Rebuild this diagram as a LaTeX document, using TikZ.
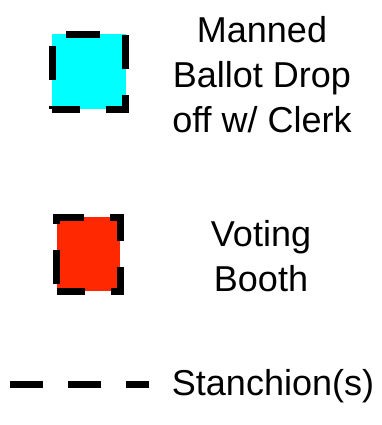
\documentclass[tikz,border=0pt]{standalone}
\usepackage{fontspec}
\setmainfont{Liberation Sans}
\definecolor{boothred}{RGB}{255,40,0}
\definecolor{dropcyan}{RGB}{0,255,255}
\begin{document}
\begin{tikzpicture}[x=1pt, y=-1pt]
  % Define styles
  \tikzstyle{legendbox}=[rectangle, draw=black, line width=7pt, dash pattern=on 34pt off 26pt, dash phase=6pt, inner sep=0pt]
  \tikzstyle{legendtext}=[align=center, inner sep=0pt, font=\fontsize{36}{45}\selectfont]
  \tikzstyle{stanchionline}=[draw=black, line width=7pt, dash pattern=on 33pt off 25pt]

  \useasboundingbox (0,0) rectangle (382,425);

  % Symbols
  \node[legendbox, fill=dropcyan, minimum width=73.5pt, minimum height=75pt] (dropbox) at (88.75,72) {};
  \node[legendbox, fill=boothred, minimum width=63.5pt, minimum height=74pt] (booth) at (88.25,254) {};
  \coordinate (stanchionstart) at (10,384);
  \coordinate (stanchionend) at (149,384);
  \draw[stanchionline] (stanchionstart) -- (stanchionend);

  % Texts
  \node[legendtext, anchor=north] (dropboxtext) at (262,16) {Manned\\Ballot Drop\\off w/ Clerk};
  \node[legendtext, anchor=north] (boothtext) at (261,220) {Voting\\Booth};
  \node[legendtext, anchor=base] (stanchiontext) at (273,395) {Stanchion(s)};
\end{tikzpicture}
\end{document}
